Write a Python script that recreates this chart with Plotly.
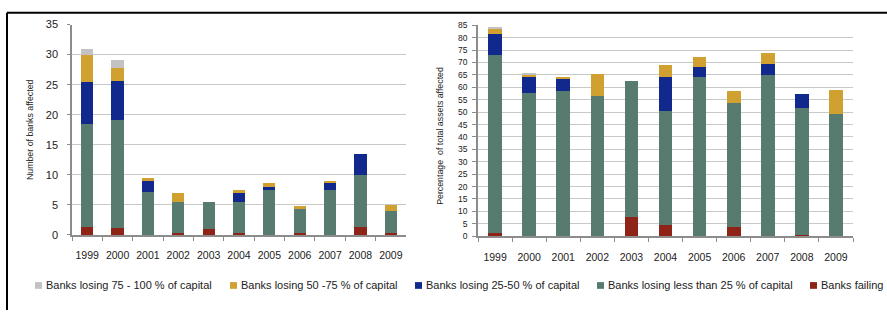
import plotly.graph_objects as go
from plotly.subplots import make_subplots

years = ["1999", "2000", "2001", "2002", "2003", "2004", "2005", "2006", "2007", "2008", "2009"]

series_names = [
    "Banks failing",
    "Banks losing less than 25 % of capital",
    "Banks losing 25-50 % of capital",
    "Banks losing 50 -75 % of capital",
    "Banks losing 75 - 100 % of capital",
]
legend_labels = [
    "Banks losing 75 - 100 % of capital",
    "Banks losing 50 -75 % of capital",
    "Banks losing 25-50 % of capital",
    "Banks losing less than 25 % of capital",
    "Banks failing",
]

# Left chart: number of banks affected
n_failing = [1.4, 1.1, 0, 0.4, 1.0, 0.4, 0, 0.4, 0, 1.4, 0.4]
n_lt25 = [17.1, 18.0, 7.1, 5.1, 4.5, 5.1, 7.5, 4.0, 7.5, 8.5, 3.6]
n_25_50 = [7.0, 6.5, 1.9, 0, 0, 1.5, 0.45, 0, 1.1, 3.6, 0]
n_50_75 = [4.5, 2.1, 0.5, 1.5, 0, 0.4, 0.65, 0.5, 0.4, 0, 1.0]
n_75_100 = [1.0, 1.4, 0, 0, 0, 0, 0, 0, 0, 0, 0]

# Right chart: percentage of total assets affected
p_failing = [1.4, 0, 0, 0, 7.75, 4.5, 0, 3.6, 0, 0.65, 0]
p_lt25 = [71.6, 57.9, 58.7, 56.3, 54.9, 45.9, 64.2, 50.0, 65.0, 51.0, 49.4]
p_25_50 = [8.3, 6.4, 4.9, 0, 0, 13.9, 3.9, 0, 4.3, 5.8, 0]
p_50_75 = [2.2, 0.8, 0.5, 9.2, 0, 4.6, 4.3, 5.1, 4.7, 0, 9.5]
p_75_100 = [0.4, 0.4, 0, 0, 0, 0, 0, 0, 0, 0, 0]

colors = {
    "Banks failing": "#8E2418",
    "Banks losing less than 25 % of capital": "#577C6F",
    "Banks losing 25-50 % of capital": "#11298C",
    "Banks losing 50 -75 % of capital": "#D0A030",
    "Banks losing 75 - 100 % of capital": "#C2C2C2",
}

left_data = [n_failing, n_lt25, n_25_50, n_50_75, n_75_100]
right_data = [p_failing, p_lt25, p_25_50, p_50_75, p_75_100]

W, H = 887, 316
def px(x):
    return x / W
def py(y):
    return 1 - y / H

fig = make_subplots(rows=1, cols=2)
for name, vals in zip(series_names, left_data):
    fig.add_trace(go.Bar(x=years, y=vals, name=name, marker_color=colors[name],
                         marker_line_width=0, showlegend=False), row=1, col=1)
for name, vals in zip(series_names, right_data):
    fig.add_trace(go.Bar(x=years, y=vals, name=name, marker_color=colors[name],
                         marker_line_width=0, showlegend=False), row=1, col=2)

font_main = "Liberation Sans, Arial, sans-serif"
font_narrow = "Liberation Sans Narrow, Arial Narrow, Liberation Sans, sans-serif"
axis_col = "#8C8C8C"
grid_col = "#C8C8C8"

fig.update_layout(
    width=W, height=H,
    margin=dict(l=0, r=0, t=0, b=0),
    barmode="stack", bargap=0.6,
    plot_bgcolor="white", paper_bgcolor="white",
    font=dict(family=font_main, color="#222222", size=11),
    showlegend=False,
    xaxis=dict(domain=[px(72), px(406)], showline=True, linecolor=axis_col, linewidth=1.5,
               ticks="outside", tickson="boundaries", ticklen=4, tickcolor=axis_col,
               tickangle=0, tickfont=dict(size=10.5), ticklabelstandoff=10, showgrid=False),
    yaxis=dict(domain=[py(238), py(19.3)], range=[0, 35], dtick=5, showline=True,
               linecolor=axis_col, linewidth=1.5, ticks="outside", ticklen=3, tickcolor=axis_col,
               gridcolor=grid_col, gridwidth=1, zeroline=False, tickfont=dict(size=11),
               ticklabelstandoff=7),
    xaxis2=dict(domain=[px(478), px(853)], showline=True, linecolor=axis_col, linewidth=1.5,
                ticks="outside", tickson="boundaries", ticklen=4, tickcolor=axis_col,
                tickangle=0, tickfont=dict(size=10.5), ticklabelstandoff=10, showgrid=False),
    yaxis2=dict(domain=[py(239.3), py(20)], range=[0, 85], dtick=5, showline=True,
                linecolor=axis_col, linewidth=1.5, ticks="outside", ticklen=4, tickcolor=axis_col,
                gridcolor=grid_col, gridwidth=1, zeroline=False, tickfont=dict(size=8.5),
                ticklabelstandoff=3),
)

annotations = [
    dict(text="Number of banks affected", x=px(30), y=py(129), xref="paper", yref="paper",
         xanchor="center", yanchor="middle", textangle=-90, showarrow=False,
         font=dict(family=font_narrow, size=8.8, color="#222222")),
    dict(text="Percentage  of total assets affected", x=px(440), y=py(135), xref="paper", yref="paper",
         xanchor="center", yanchor="middle", textangle=-90, showarrow=False,
         font=dict(family=font_narrow, size=8.8, color="#222222")),
]

shapes = [
    dict(type="line", xref="paper", yref="paper", x0=px(7), x1=1, y0=py(7), y1=py(7),
         line=dict(color="black", width=2)),
    dict(type="line", xref="paper", yref="paper", x0=px(7), x1=px(7), y0=py(7), y1=0,
         line=dict(color="black", width=2)),
]

legend_sq_x = [35, 230, 415, 597, 810]
for lab, sx in zip(legend_labels, legend_sq_x):
    shapes.append(dict(type="rect", xref="paper", yref="paper",
                       x0=px(sx), x1=px(sx + 7), y0=py(294), y1=py(287),
                       fillcolor=colors[lab], line=dict(width=0)))
    annotations.append(dict(text=lab, x=px(sx + 9), y=py(290.5), xref="paper", yref="paper",
                            xanchor="left", yanchor="middle", showarrow=False,
                            font=dict(family=font_main, size=11, color="#222222")))

fig.update_layout(annotations=annotations, shapes=shapes)
fig.write_html("out.html", config={"displayModeBar": False},
               post_script="document.body.style.margin='0';document.body.style.overflow='hidden';")
